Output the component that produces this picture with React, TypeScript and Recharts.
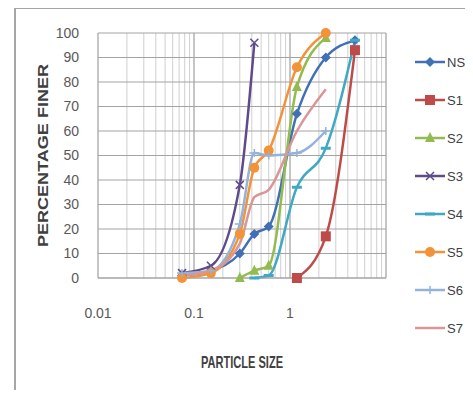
import { CartesianGrid, Label, Line, LineChart, ReferenceLine, XAxis, YAxis } from "recharts";

// sieve sizes (mm) and percentage finer per sample
const sieveSizes = [0.075, 0.15, 0.3, 0.425, 0.6, 1.18, 2.36, 4.75];
const nsValues = [1, 3, 10, 18, 21, 67, 90, 97];
const s1Values = [null, null, null, null, null, 0, 17, 93];
const s2Values = [null, null, 0, 3, 5, 78, 98, null];
const s3Values = [2, 5, 38, 96, null, null, null, null];
const s4Values = [null, null, null, 0, 1, 37, 53, 97];
const s5Values = [0, 2, 18, 45, 52, 86, 100, null];
const s6Values = [2, 3, 22, 51, 50, 51, 60, null];
const s7Values = [1, 3, 14, 33, 36, 60, 77, null];

const seriesNames = ["NS", "S1", "S2", "S3", "S4", "S5", "S6", "S7"];
const seriesColors = ["#4170b5", "#be4b48", "#92bb50", "#5f4b8b", "#3fa9c4", "#f39339", "#93b3db", "#d99694"];
const seriesMarkers = ["diamond", "square", "triangle", "x", "dash", "circle", "plus", "none"];
const seriesValues = [nsValues, s1Values, s2Values, s3Values, s4Values, s5Values, s6Values, s7Values];

const xTicks = [
  0.01, 0.02, 0.03, 0.04, 0.05, 0.06, 0.07, 0.08, 0.09,
  0.1, 0.2, 0.3, 0.4, 0.5, 0.6, 0.7, 0.8, 0.9,
  1, 2, 3, 4, 5, 6, 7, 8, 9, 10,
];
const xLabels = [0.01, 0.1, 1];
const yTicks = [0, 10, 20, 30, 40, 50, 60, 70, 80, 90, 100];

const font = "'Liberation Sans Narrow', 'Liberation Sans', Arial, sans-serif";

const series = seriesNames.map((name, i) => ({
  name,
  color: seriesColors[i],
  marker: seriesMarkers[i],
  data: sieveSizes
    .map((size, j) => ({ size, finer: seriesValues[i][j] }))
    .filter((d) => d.finer !== null),
}));

function Marker({ kind, cx, cy, color }: { kind: string; cx: number; cy: number; color: string }) {
  if (kind === "diamond")
    return <path d={`M${cx},${cy - 5}L${cx + 5},${cy}L${cx},${cy + 5}L${cx - 5},${cy}Z`} fill={color} />;
  if (kind === "square") return <rect x={cx - 5} y={cy - 5} width={10} height={10} fill={color} />;
  if (kind === "triangle")
    return <path d={`M${cx},${cy - 6}L${cx + 5},${cy + 4}L${cx - 5},${cy + 4}Z`} fill={color} />;
  if (kind === "circle") return <circle cx={cx} cy={cy} r={5} fill={color} />;
  if (kind === "x")
    return (
      <path d={`M${cx - 4},${cy - 4}L${cx + 4},${cy + 4}M${cx + 4},${cy - 4}L${cx - 4},${cy + 4}`} stroke={color} strokeWidth={1.5} />
    );
  if (kind === "plus")
    return <path d={`M${cx - 5},${cy}L${cx + 5},${cy}M${cx},${cy - 4}L${cx},${cy + 4}`} stroke={color} strokeWidth={1.5} />;
  if (kind === "dash") return <path d={`M${cx - 5},${cy}L${cx + 5},${cy}`} stroke={color} strokeWidth={3} />;
  return null;
}

function LegendBox() {
  return (
    <svg width={68} height={320} style={{ position: "absolute", left: 405, top: 40 }}>
      {series.map((s, i) => {
        const y = 22 + i * 38;
        return (
          <g key={s.name}>
            <line x1={10} x2={40} y1={y} y2={y} stroke={s.color} strokeWidth={2.5} />
            <Marker kind={s.marker} cx={25} cy={y} color={s.color} />
            <text x={42} y={y} dominantBaseline="central" fontFamily={font} fontSize={13} fill="#404040">
              {s.name}
            </text>
          </g>
        );
      })}
    </svg>
  );
}

export default function App() {
  return (
    <div style={{ position: "relative", width: 473, height: 398, margin: -8, overflow: "hidden", background: "#fff" }}>
      <div
        style={{
          position: "absolute",
          left: 14,
          top: 7,
          width: 480,
          height: 420,
          border: "2px solid #a6a6a6",
          boxSizing: "border-box",
        }}
      />
      <LineChart
        width={473}
        height={398}
        margin={{ top: 33, right: 87, left: 14, bottom: 20 }}
        style={{ position: "absolute", left: 0, top: 0 }}
      >
        <CartesianGrid stroke="#cfcfcf" horizontal={false} />
        <CartesianGrid stroke="#a3a3a3" vertical={false} />
        <ReferenceLine x={0.1} stroke="#a3a3a3" />
        <ReferenceLine x={1} stroke="#a3a3a3" />
        <ReferenceLine x={10} stroke="#a3a3a3" />
        <XAxis
          type="number"
          dataKey="size"
          scale="log"
          domain={[0.01, 10]}
          allowDataOverflow
          ticks={xTicks}
          interval={0}
          tickLine={false}
          tickMargin={24}
          axisLine={{ stroke: "#a3a3a3" }}
          height={100}
          tick={{ fill: "#595959", fontSize: 14, fontFamily: font }}
          tickFormatter={(v: number) => (xLabels.includes(v) ? String(v) : "")}
        >
          <Label
            content={({ viewBox }: any) => (
              <text
                x={viewBox.x + viewBox.width / 2}
                y={viewBox.y + 90}
                textAnchor="middle"
                fontFamily={font}
                fontWeight="bold"
                fontSize={17}
                fill="#404040"
                textLength={82}
                lengthAdjust="spacingAndGlyphs"
              >
                PARTICLE SIZE
              </text>
            )}
          />
        </XAxis>
        <YAxis
          type="number"
          domain={[0, 100]}
          ticks={yTicks}
          interval={0}
          width={84}
          tickLine={false}
          tickMargin={13}
          axisLine={{ stroke: "#a3a3a3" }}
          tick={{ fill: "#595959", fontSize: 14, fontFamily: font }}
        >
          <Label
            content={({ viewBox }: any) => {
              const x = viewBox.x + 29;
              const y = viewBox.y + viewBox.height / 2;
              return (
                <text
                  x={x}
                  y={y}
                  transform={`rotate(-90 ${x} ${y})`}
                  textAnchor="middle"
                  dominantBaseline="central"
                  fontFamily="'Liberation Sans', Arial, sans-serif"
                  fontWeight="bold"
                  fontSize={14}
                  fill="#404040"
                  textLength={183}
                  lengthAdjust="spacingAndGlyphs"
                >
                  PERCENTAGE FINER
                </text>
              );
            }}
          />
        </YAxis>
        {series.map((s) => (
          <Line
            key={s.name}
            data={s.data}
            dataKey="finer"
            name={s.name}
            type="monotone"
            stroke={s.color}
            strokeWidth={2.5}
            isAnimationActive={false}
            dot={(p: any) => <Marker key={`${s.name}-${p.index}`} kind={s.marker} cx={p.cx} cy={p.cy} color={s.color} />}
            activeDot={false}
          />
        ))}
      </LineChart>
      <LegendBox />
    </div>
  );
}
